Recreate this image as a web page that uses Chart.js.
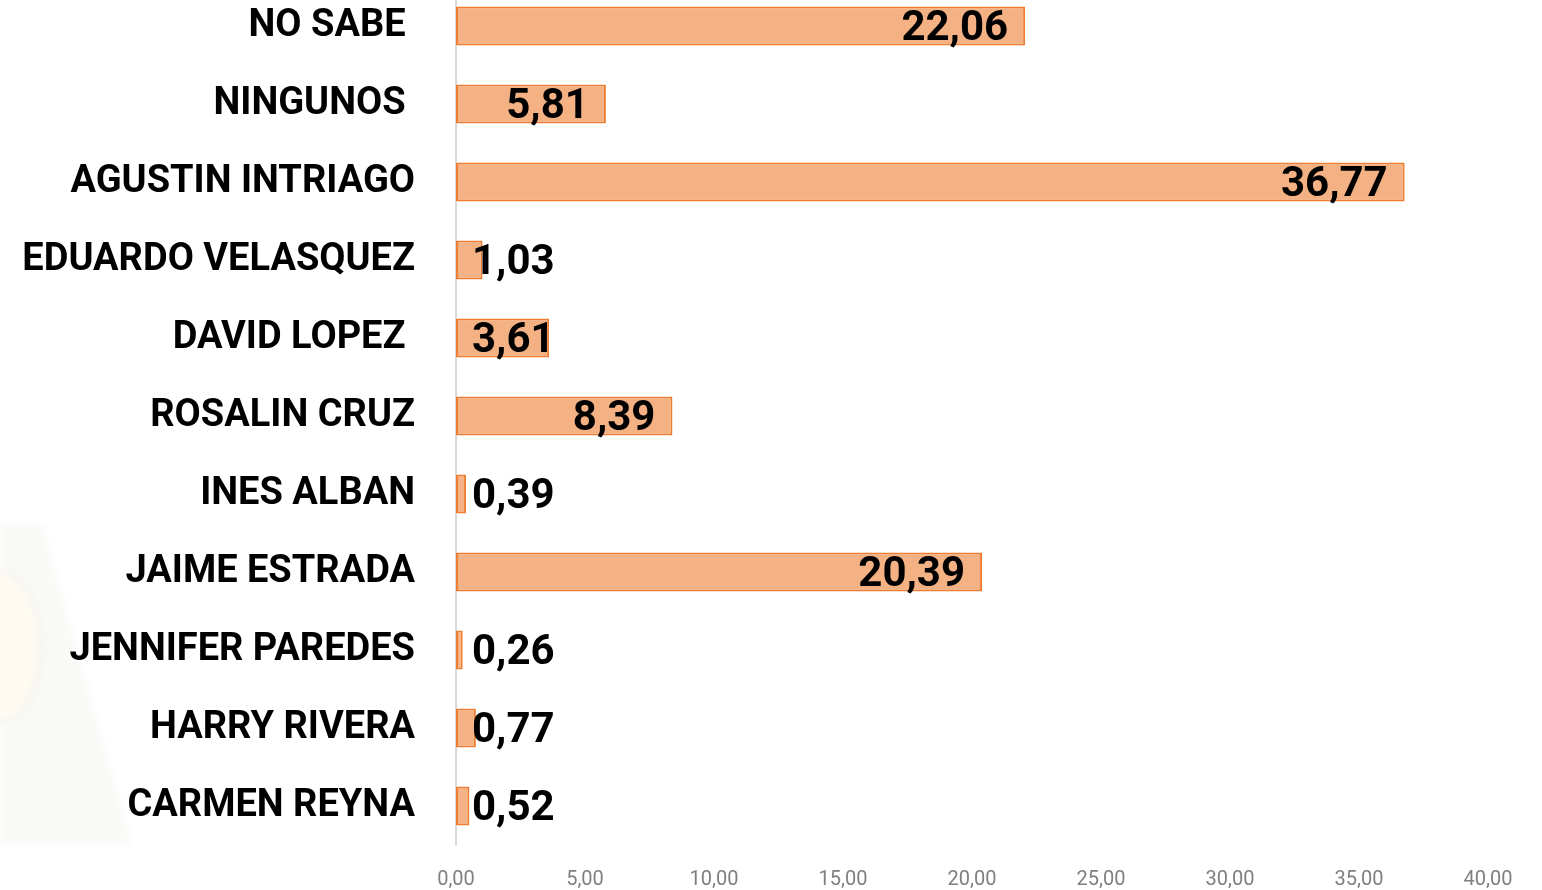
<!DOCTYPE html>
<html>
<head>
<meta charset="utf-8">
<script src="https://cdn.jsdelivr.net/npm/chart.js@4.4.1/dist/chart.umd.min.js"></script>
<style>
  html, body { margin: 0; padding: 0; background: #fff; overflow: hidden; }
  #wrap { position: absolute; left: 0; top: -13px; width: 1542px; height: 903px; }
</style>
</head>
<body>
<div id="wrap"><canvas id="barChart"></canvas></div>
<script>
// candidates and percentages
const categories = ['NO SABE ', 'NINGUNOS ', 'AGUSTIN INTRIAGO', 'EDUARDO VELASQUEZ', 'DAVID LOPEZ ',
  'ROSALIN CRUZ', 'INES ALBAN', 'JAIME ESTRADA', 'JENNIFER PAREDES', 'HARRY RIVERA', 'CARMEN REYNA'];
const percents = [22.06, 5.81, 36.77, 1.03, 3.61, 8.39, 0.39, 20.39, 0.26, 0.77, 0.52];
const xTicks = [0, 5, 10, 15, 20, 25, 30, 35, 40];

function fmt(v) {
  return v.toFixed(2).replace('.', ',');
}

// faint logo watermark behind the chart (bottom left)
const watermark = {
  id: 'watermark',
  beforeDraw(chart) {
    const ctx = chart.ctx;
    ctx.save();
    ctx.filter = 'blur(3px)';
    ctx.fillStyle = '#f9f9f7';
    ctx.beginPath();
    ctx.moveTo(0, 538);
    ctx.lineTo(42, 538);
    ctx.lineTo(132, 858);
    ctx.lineTo(0, 858);
    ctx.closePath();
    ctx.fill();
    ctx.fillStyle = '#fffbf2';
    ctx.strokeStyle = '#f4f2ee';
    ctx.lineWidth = 3;
    ctx.beginPath();
    ctx.ellipse(0, 660, 40, 75, 0, 0, Math.PI * 2);
    ctx.fill();
    ctx.stroke();
    ctx.restore();
  }
};

// value labels: inside the bar end, or just after the axis if the bar is too short
const valueLabels = {
  id: 'valueLabels',
  afterDatasetsDraw(chart) {
    const ctx = chart.ctx;
    const meta = chart.getDatasetMeta(0);
    const x0 = chart.scales.x.getPixelForValue(0);
    ctx.save();
    ctx.font = 'bold 42px Roboto';
    ctx.fillStyle = '#000';
    ctx.textBaseline = 'middle';
    ctx.textAlign = 'left';
    meta.data.forEach(function(bar, i) {
      const txt = fmt(percents[i]);
      const w = ctx.measureText(txt).width;
      let left = bar.x - 17 - w;
      if (left < x0 + 16) left = x0 + 16;
      ctx.fillText(txt, left, bar.y + 3);
    });
    ctx.restore();
  }
};

const ctx = document.getElementById('barChart');
let myChart = new Chart(ctx, {
  type: 'bar',
  data: {
    labels: categories,
    datasets: [{
      data: percents,
      backgroundColor: '#F4B183',
      borderColor: '#ED7D31',
      borderWidth: 2,
      borderSkipped: false,
      barPercentage: 0.5,
      categoryPercentage: 1
    }]
  },
  plugins: [watermark, valueLabels],
  options: {
    indexAxis: 'y',
    responsive: true,
    maintainAspectRatio: false,
    animation: false,
    layout: { padding: { left: 0, right: 54, top: 0, bottom: 0 } },
    plugins: {
      legend: { display: false },
      tooltip: { enabled: false }
    },
    scales: {
      x: {
        min: 0,
        max: 40,
        afterBuildTicks: function(scale) {
          scale.ticks = xTicks.map(v => ({ value: v }));
        },
        afterFit: function(scale) { scale.height = 45; },
        grid: { display: false, drawTicks: false },
        border: { display: false },
        ticks: {
          padding: 23,
          color: '#7f7f7f',
          font: { family: 'Roboto', size: 20 },
          callback: v => fmt(v)
        }
      },
      y: {
        afterFit: function(scale) {
          scale.width = 456;
          scale.paddingTop = 0;
          scale.paddingBottom = 0;
        },
        grid: { display: false, drawTicks: false },
        border: { display: true, color: '#d9d9d9', width: 2 },
        ticks: {
          padding: 41,
          color: '#000',
          font: { family: 'Roboto', size: 38, weight: 'bold' }
        }
      }
    }
  }
});
</script>
</body>
</html>
